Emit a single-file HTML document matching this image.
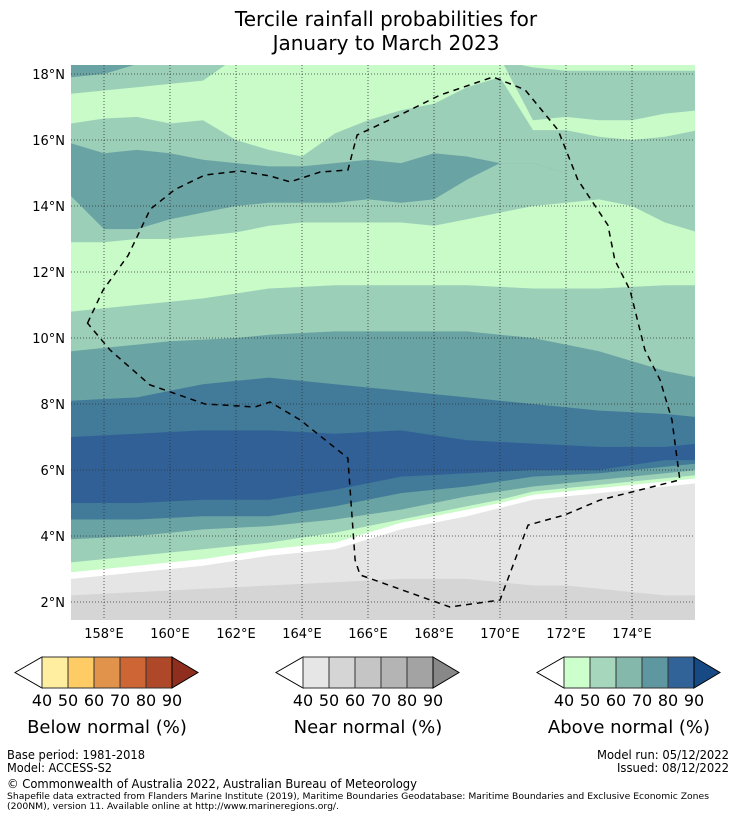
<!DOCTYPE html>
<html><head><meta charset="utf-8"><style>
body{margin:0;background:#fff}
svg{display:block;font-family:"DejaVu Sans","Liberation Sans",sans-serif}
</style></head><body>
<svg id="c" width="736" height="816" viewBox="0 0 736 816">
<text x="386" y="26" font-size="20" text-anchor="middle">Tercile rainfall probabilities for</text>
<text x="386" y="50" font-size="20" text-anchor="middle">January to March 2023</text>
<defs><clipPath id="clip"><rect x="71" y="65" width="624" height="555"/></clipPath></defs>
<g id="map" clip-path="url(#clip)"></g>
<g id="grid"></g>
<g id="axes"></g>
<g id="bars"></g>
<g font-size="12">
<text x="7" y="759" textLength="138" lengthAdjust="spacingAndGlyphs">Base period: 1981-2018</text>
<text x="7" y="772" textLength="105" lengthAdjust="spacingAndGlyphs">Model: ACCESS-S2</text>
<text x="729" y="759" text-anchor="end" textLength="132" lengthAdjust="spacingAndGlyphs">Model run: 05/12/2022</text>
<text x="729" y="772" text-anchor="end" textLength="112" lengthAdjust="spacingAndGlyphs">Issued: 08/12/2022</text>
<text x="7" y="788" textLength="410" lengthAdjust="spacingAndGlyphs">© Commonwealth of Australia 2022, Australian Bureau of Meteorology</text>
<text x="7" y="799" font-size="9" textLength="702" lengthAdjust="spacingAndGlyphs">Shapefile data extracted from Flanders Marine Institute (2019), Maritime Boundaries Geodatabase: Maritime Boundaries and Exclusive Economic Zones</text>
<text x="7" y="809" font-size="9" textLength="332" lengthAdjust="spacingAndGlyphs">(200NM), version 11. Available online at http://www.marineregions.org/.</text>
</g>
</svg>
<script>
const lonSamples=[157,158,159,160,161,162,163,164,165,166,167,168,169,170,171,172,173,174,175,176];
const bandColors=["g1","w","a40","a50","a60","a70","a80","a70","a60","a50","a40","a50","a60","a50","a40","a50","a60","a40"];
const bandBounds=[
[2.2,2.25,2.3,2.35,2.4,2.45,2.5,2.55,2.6,2.65,2.7,2.7,2.7,2.6,2.5,2.5,2.4,2.3,2.2,2.2],
[2.7,2.8,2.9,3.0,3.1,3.25,3.4,3.5,3.6,3.9,4.2,4.4,4.6,4.85,5.1,5.2,5.3,5.4,5.5,5.6],
[2.9,3.0,3.1,3.2,3.3,3.45,3.6,3.7,3.8,4.1,4.4,4.6,4.8,5.0,5.25,5.35,5.45,5.55,5.65,5.75],
[3.2,3.3,3.4,3.5,3.6,3.7,3.8,3.95,4.1,4.3,4.5,4.7,4.9,5.1,5.35,5.45,5.55,5.65,5.75,5.85],
[3.9,3.95,4.0,4.1,4.2,4.25,4.3,4.4,4.5,4.65,4.8,5.0,5.2,5.35,5.5,5.6,5.7,5.8,5.9,6.0],
[4.5,4.5,4.5,4.55,4.6,4.6,4.6,4.75,4.9,5.1,5.3,5.4,5.5,5.65,5.8,5.85,5.9,6.0,6.1,6.2],
[5.0,5.0,5.0,5.05,5.1,5.1,5.1,5.25,5.4,5.6,5.8,5.85,5.9,5.95,6.0,6.0,6.0,6.15,6.3,6.3],
[7.0,7.05,7.1,7.15,7.2,7.2,7.2,7.15,7.1,7.15,7.2,7.05,6.9,6.85,6.8,6.75,6.7,6.7,6.7,6.8],
[8.1,8.15,8.2,8.4,8.6,8.7,8.8,8.7,8.6,8.5,8.4,8.3,8.2,8.1,8.0,7.9,7.8,7.75,7.7,7.6],
[9.6,9.7,9.8,9.9,9.95,10.0,10.1,10.15,10.2,10.2,10.2,10.2,10.2,10.1,10.0,9.8,9.6,9.3,9.0,8.8],
[10.8,10.9,11.0,11.1,11.2,11.35,11.5,11.55,11.6,11.6,11.6,11.6,11.6,11.55,11.5,11.5,11.5,11.55,11.6,11.6],
[12.9,12.9,13.0,13.0,13.1,13.2,13.4,13.5,13.5,13.5,13.5,13.4,13.6,13.8,14.0,14.1,14.2,14.0,13.5,13.2],
[14.3,13.3,13.3,13.6,13.8,14.0,14.1,14.1,14.1,14.2,14.1,14.2,14.8,15.3,15.3,15,15,15,15,15],
[15.9,15.6,15.7,15.6,15.4,15.3,15.2,15.2,15.3,15.4,15.3,15.6,15.5,15.3,15.3,15,15,15,15,15],
[16.5,16.65,16.7,16.5,16.6,16.0,15.7,15.5,16.2,16.6,16.9,17.1,17.6,17.9,16.3,16.3,16.1,16.0,16.1,16.3],
[17.4,17.5,17.6,17.7,17.8,18.5,18.5,18.5,18.5,18.5,18.5,18.5,18.5,18.5,16.6,16.7,16.6,16.6,16.8,16.9],
[17.9,18.0,18.3,18.5,18.5,18.5,18.5,18.5,18.5,18.5,18.5,18.5,18.5,18.5,18.5,18.5,18.5,18.5,18.5,18.5],
[18.5,18.5,18.5,18.5,18.5,18.5,18.5,18.5,18.5,18.5,18.5,18.5,18.5,18.4,18.2,18.1,18.1,18.1,18.1,18.1]
];
const eezLon=[157.5,157.97,158.73,159.4,160.15,161.06,162.12,163.03,163.64,164.55,165.39,165.67,166.97,168.18,169.79,170.76,171.76,172.36,173.27,173.48,173.94,174.39,174.85,175.21,175.45,173.03,171.97,170.85,170,168.48,165.76,165.61,165.39,163.94,163.03,162.58,161.06,159.39,158.18];
const eezLat=[10.45,11.45,12.5,13.9,14.5,14.94,15.06,14.91,14.73,15.03,15.09,16.15,16.76,17.36,17.91,17.52,16.3,14.79,13.42,12.36,11.45,9.64,8.73,7.52,5.7,5.09,4.64,4.33,2.06,1.85,2.82,3.27,6.36,7.52,8.06,7.91,8.0,8.58,9.64];
const lonTicks=[158,160,162,164,166,168,170,172,174];
const latTicks=[2,4,6,8,10,12,14,16,18];
const belowCols=["#ffeda0","#fecb65","#e1934b","#cd6534","#ae4828","#8f2e1f"];
const nearCols=["#e6e6e6","#d5d5d5","#c5c5c5","#b4b4b4","#a3a3a3","#888888"];
const aboveCols=["#ccffcc","#a6d7bd","#84b8ab","#5f97a0","#326398","#174a85"];
const barLabels=["40","50","60","70","80","90"];
const barTitles=["Below normal (%)","Near normal (%)","Above normal (%)"];

const pal={g0:"#d5d5d5",g1:"#e5e5e5",w:"#ffffff",a40:"#c8fbc8",a50:"#9ccfb8",a60:"#6aa3a3",a70:"#417b99",a80:"#306096"};
const X=lon=>71+(lon-157)*33, Y=lat=>74+(18-lat)*33;
const NS="http://www.w3.org/2000/svg";
function mk(t,p,a){const e=document.createElementNS(NS,t);for(const k in a)e.setAttribute(k,a[k]);p.appendChild(e);return e;}
const map=document.getElementById('map');
const bg=mk('rect',map,{x:71,y:65,width:624,height:555,fill:pal.g0});


bandBounds.forEach((b,i)=>{
  let d=`M${X(157)},40 `;
  b.forEach((lat,j)=>{d+=`L${X(lonSamples[j])},${Y(lat)} `;});
  d+=`L${X(176)},40 Z`;
  const p=mk('path',map,{d:d,fill:pal[bandColors[i]]});
  
  
});
let ed="";eezLon.forEach((l,i)=>{ed+=(i?'L':'M')+X(l)+','+Y(eezLat[i])+' ';});
const eez=mk('path',map,{d:ed+'Z',fill:'none',stroke:'#000','stroke-width':1.5,'stroke-dasharray':'6,5'});


const grid=document.getElementById('grid'),axes=document.getElementById('axes');
lonTicks.forEach(l=>{
  const g=mk('line',grid,{x1:X(l),x2:X(l),y1:65,y2:620,stroke:'#333','stroke-width':0.8,'stroke-dasharray':'1,2'});
  
  
  const t=mk('text',axes,{x:X(l),y:638,'font-size':13,'text-anchor':'middle'});t.textContent=l+'°E';
  
  
});
latTicks.forEach(l=>{
  const g=mk('line',grid,{x1:71,x2:695,y1:Y(l),y2:Y(l),stroke:'#333','stroke-width':0.8,'stroke-dasharray':'1,2'});
  
  
  const t=mk('text',axes,{x:65,y:Y(l)+5,'font-size':13,'text-anchor':'end'});t.textContent=l+'°N';
  
  
});
const bars=document.getElementById('bars');
[[15,belowCols],[276,nearCols],[537,aboveCols]].forEach(([x0,cols],k)=>{
  const y0=657,h=31,bw=26,rx=x0+27;
  const lt=mk('polygon',bars,{points:`${x0},${y0+h/2} ${rx},${y0} ${rx},${y0+h}`,fill:'#fff',stroke:'#000','stroke-width':1});
  
  
  for(let i=0;i<5;i++){
    const r=mk('rect',bars,{x:rx+i*bw,y:y0,width:bw,height:h,fill:cols[i],stroke:'#333','stroke-width':1});
    
    
  }
  const ex=rx+5*bw;
  const rt=mk('polygon',bars,{points:`${ex},${y0} ${ex+26},${y0+h/2} ${ex},${y0+h}`,fill:cols[5],stroke:'#000','stroke-width':1});
  
  
  barLabels.forEach((s,i)=>{const t=mk('text',bars,{x:rx+i*bw,y:706,'font-size':16,'text-anchor':'middle'});t.textContent=s;
    
    });
  const tt=mk('text',bars,{x:rx+65,y:733,'font-size':18,'text-anchor':'middle'});tt.textContent=barTitles[k];
  
  
});
</script>
</body></html>
